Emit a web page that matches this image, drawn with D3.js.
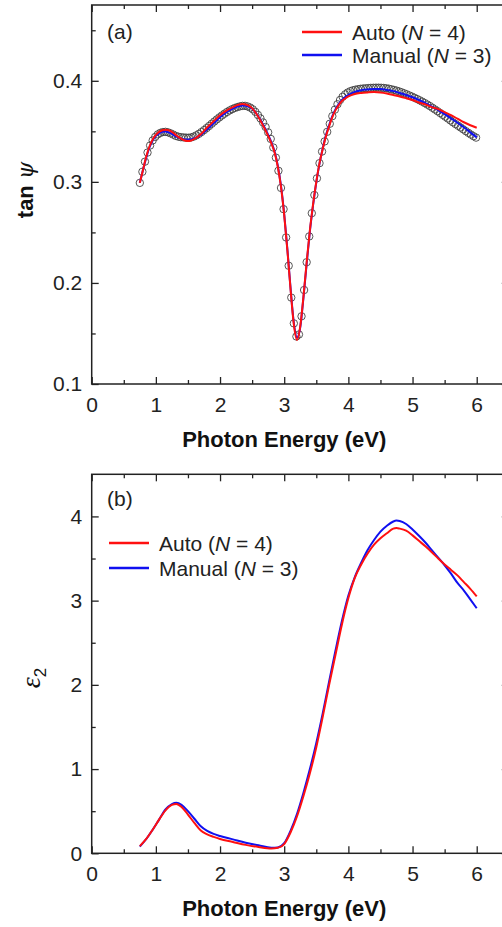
<!DOCTYPE html>
<html><head><meta charset="utf-8">
<script src="https://cdn.jsdelivr.net/npm/d3@7"></script>
<style>html,body{margin:0;padding:0;background:#fff;}svg{display:block;}</style>
</head><body>
<svg id="c" width="502" height="927"></svg>
<script>
// ---------- DATA ----------
// (a) measured tan(psi) (open circles)
const measE = [0.75,0.79,0.83,0.87,0.91,0.95,0.99,1.03,1.07,1.11,1.15,1.19,1.23,1.27,1.31,1.35,1.39,1.43,1.47,1.51,
1.55,1.59,1.63,1.67,1.71,1.75,1.79,1.83,1.87,1.91,1.95,1.99,2.03,2.07,2.11,2.15,2.19,2.23,2.27,2.31,
2.35,2.39,2.43,2.47,2.51,2.55,2.59,2.63,2.67,2.71,2.75,2.79,2.83,2.87,2.91,2.95,2.99,3.03,3.07,3.11,
3.15,3.19,3.23,3.27,3.31,3.35,3.39,3.43,3.47,3.51,3.55,3.59,3.63,3.67,3.71,3.75,3.79,3.83,3.87,3.91,
3.95,3.99,4.03,4.07,4.11,4.15,4.19,4.23,4.27,4.31,4.35,4.39,4.43,4.47,4.51,4.55,4.59,4.63,4.67,4.71,
4.75,4.79,4.83,4.87,4.91,4.95,4.99,5.03,5.07,5.11,5.15,5.19,5.23,5.27,5.31,5.35,5.39,5.43,5.47,5.51,
5.55,5.59,5.63,5.67,5.71,5.75,5.79,5.83,5.87,5.91,5.95,5.99];
const measTanPsi = [0.299,0.310,0.320,0.329,0.336,0.341,0.3445,0.347,0.3485,0.3493,0.3495,0.349,0.348,0.3468,0.3455,0.3447,0.3442,0.344,0.3438,0.3437,
0.344,0.3448,0.346,0.3475,0.3493,0.3512,0.3532,0.3553,0.3575,0.3597,0.3618,0.3638,0.3657,0.3675,0.3692,0.3707,0.372,0.3731,0.374,0.3747,
0.3752,0.3752,0.3746,0.3735,0.3718,0.3693,0.3662,0.3628,0.3588,0.3543,0.349,0.3425,0.334,0.324,0.311,0.294,0.273,0.245,0.217,0.1855,
0.160,0.147,0.149,0.167,0.193,0.2205,0.246,0.269,0.287,0.3035,0.3185,0.330,0.340,0.3495,0.3575,0.365,0.3715,0.3768,0.381,0.3842,
0.3866,0.3884,0.3897,0.3906,0.3912,0.3917,0.3921,0.3924,0.3926,0.3928,0.393,0.3931,0.3932,0.3932,0.3931,0.3929,0.3926,0.3922,0.3916,0.391,
0.3903,0.3895,0.3886,0.3876,0.3866,0.3855,0.3844,0.3832,0.382,0.3807,0.3794,0.378,0.3765,0.375,0.3733,0.3716,0.3699,0.3681,0.3663,0.3645,
0.3627,0.3608,0.3589,0.3572,0.3555,0.3538,0.352,0.3502,0.3485,0.3468,0.3452,0.3438];

// (a) fitted tan(psi) curves
const fitE = [0.75,0.8,0.85,0.9,0.95,1.0,1.05,1.1,1.15,1.2,1.25,1.3,1.35,1.4,1.45,1.5,1.55,1.6,1.7,1.8,1.9,2.0,2.1,2.2,2.3,2.35,2.4,2.5,2.6,2.7,
2.8,2.85,2.9,2.95,3.0,3.05,3.1,3.15,3.2,3.25,3.3,3.35,3.4,3.45,3.5,3.55,3.6,3.65,3.7,3.75,3.8,3.85,3.9,3.95,4.0,4.1,4.2,4.3,4.4,4.5,
4.6,4.7,4.8,4.9,5.0,5.1,5.2,5.3,5.4,5.5,5.6,5.7,5.8,5.9,6.0];
const autoTanPsi = [0.299,0.312,0.325,0.335,0.342,0.3465,0.3495,0.351,0.3515,0.351,0.3495,0.347,0.3445,0.3425,0.341,0.3405,0.341,0.3425,0.347,0.354,0.360,0.366,0.3705,0.374,0.3765,0.377,0.3765,0.373,0.364,0.352,
0.338,0.329,0.315,0.295,0.267,0.232,0.193,0.159,0.1435,0.157,0.1865,0.2205,0.252,0.278,0.300,0.3185,0.3325,0.345,0.355,0.364,0.371,0.376,0.380,0.3825,0.3845,0.387,0.388,0.3885,0.3888,0.3885,
0.3875,0.386,0.3845,0.3828,0.381,0.3785,0.3765,0.374,0.372,0.369,0.366,0.3625,0.359,0.356,0.3535];
const manualTanPsi = [0.299,0.312,0.324,0.334,0.341,0.3455,0.348,0.3495,0.3498,0.349,0.3475,0.3455,0.344,0.3428,0.342,0.3418,0.342,0.343,0.3465,0.352,0.358,0.364,0.369,0.3725,0.375,0.3755,0.3752,0.3725,0.3645,0.353,
0.339,0.330,0.316,0.296,0.268,0.233,0.194,0.1605,0.146,0.156,0.1855,0.219,0.251,0.277,0.2995,0.318,0.333,0.346,0.356,0.365,0.372,0.377,0.381,0.384,0.386,0.389,0.3907,0.3915,0.392,0.3918,
0.391,0.3898,0.388,0.386,0.3837,0.381,0.378,0.3745,0.371,0.367,0.3628,0.3585,0.354,0.349,0.344];

// (b) epsilon_2
const epsE = [0.75,0.85,0.95,1.05,1.15,1.25,1.32,1.4,1.5,1.6,1.7,1.8,1.9,2.0,2.2,2.4,2.6,2.8,2.9,3.0,3.1,3.2,3.3,3.4,3.5,3.6,3.7,3.8,3.9,4.0,
4.1,4.2,4.3,4.4,4.5,4.6,4.7,4.75,4.8,4.9,5.0,5.1,5.2,5.3,5.4,5.5,5.6,5.7,5.8,5.9,6.0];
const autoEps2 = [0.085,0.17,0.28,0.40,0.51,0.575,0.585,0.55,0.46,0.36,0.27,0.225,0.195,0.17,0.135,0.10,0.075,0.058,0.065,0.11,0.25,0.44,0.68,0.95,1.26,1.62,2.0,2.36,2.72,3.03,
3.27,3.43,3.56,3.665,3.74,3.80,3.855,3.862,3.855,3.83,3.775,3.71,3.645,3.575,3.50,3.43,3.365,3.30,3.22,3.14,3.05];
const manualEps2 = [0.08,0.17,0.28,0.40,0.52,0.585,0.60,0.575,0.50,0.41,0.32,0.265,0.23,0.205,0.165,0.125,0.095,0.065,0.07,0.12,0.27,0.47,0.72,1.0,1.31,1.66,2.04,2.41,2.76,3.06,
3.28,3.45,3.60,3.72,3.82,3.89,3.94,3.95,3.945,3.91,3.845,3.77,3.69,3.60,3.51,3.42,3.32,3.21,3.12,3.015,2.91];

const xTicks = [0,1,2,3,4,5,6];
const yTicksA = [0.1,0.2,0.3,0.4];
const yTicksB = [0,1,2,3,4];
const legendLabels = [["Auto (","N"," = 4)"],["Manual (","N"," = 3)"]];

// ---------- DRAWING ----------
const svg = d3.select("#c");
const FONT = "'Liberation Sans', Arial, sans-serif";
const AX = "#222";
const RED = "#ff1010", BLUE = "#1010f0";

const x = d3.scaleLinear().domain([0, 6.5]).range([91.7, 508.8]);

function frame(y, bottomY, topY, yTicks, yMinor, fmt) {
  const g = svg.append("g");
  g.append("g").attr("transform", `translate(0,${bottomY})`)
    .call(d3.axisBottom(x).tickValues(xTicks).tickSizeInner(-7).tickSizeOuter(0).tickPadding(13).tickFormat(d3.format("d")));
  g.append("g").attr("transform", `translate(0,${bottomY})`)
    .call(d3.axisBottom(x).tickValues(d3.range(0.5, 6.5, 1)).tickSizeInner(-4).tickSizeOuter(0).tickFormat(""));
  g.append("g").attr("transform", `translate(0,${topY})`)
    .call(d3.axisTop(x).tickValues(xTicks).tickSizeInner(-7).tickSizeOuter(0).tickFormat(""));
  g.append("g").attr("transform", `translate(0,${topY})`)
    .call(d3.axisTop(x).tickValues(d3.range(0.5, 6.5, 1)).tickSizeInner(-4).tickSizeOuter(0).tickFormat(""));
  g.append("g").attr("transform", `translate(${x(0)},0)`)
    .call(d3.axisLeft(y).tickValues(yTicks).tickSizeInner(-7).tickSizeOuter(0).tickPadding(9.5).tickFormat(fmt));
  g.append("g").attr("transform", `translate(${x(0)},0)`)
    .call(d3.axisLeft(y).tickValues(yMinor).tickSizeInner(-4).tickSizeOuter(0).tickFormat(""));
  g.append("g").attr("transform", `translate(${x(6.5)},0)`)
    .call(d3.axisRight(y).tickValues(yTicks).tickSizeInner(-7).tickSizeOuter(0).tickFormat(""));
  g.append("g").attr("transform", `translate(${x(6.5)},0)`)
    .call(d3.axisRight(y).tickValues(yMinor).tickSizeInner(-4).tickSizeOuter(0).tickFormat(""));
  g.selectAll(".domain").remove();
  g.selectAll(".tick line").attr("stroke", AX).attr("stroke-width", 1.3);
  g.selectAll(".tick text").attr("font-family", FONT).attr("font-size", 21).attr("fill", AX);
  g.append("rect").attr("x", x(0)).attr("y", topY).attr("width", x(6.5) - x(0)).attr("height", bottomY - topY)
    .attr("fill", "none").attr("stroke", AX).attr("stroke-width", 1.5);
  return g;
}

// ---- Panel (a)
const ya = d3.scaleLinear().domain([0.1, 0.475]).range([384, 5]);
frame(ya, 384, 5, yTicksA, [0.15,0.25,0.35,0.45], d3.format(".1f"));

const lineA = (arr) => d3.line().x((d, i) => x(fitE[i])).y(d => ya(d)).curve(d3.curveMonotoneX)(arr);
svg.append("g").selectAll("circle").data(measTanPsi).join("circle")
  .attr("cx", (d, i) => x(measE[i])).attr("cy", d => ya(d)).attr("r", 3.7)
  .attr("fill", "none").attr("stroke", "#3a3a3a").attr("stroke-width", 1).attr("stroke-opacity", 0.85);
svg.append("path").attr("d", lineA(manualTanPsi)).attr("fill", "none").attr("stroke", BLUE).attr("stroke-width", 2);
svg.append("path").attr("d", lineA(autoTanPsi)).attr("fill", "none").attr("stroke", RED).attr("stroke-width", 2);

// ---- Panel (b)
const yb = d3.scaleLinear().domain([0, 4.5]).range([853.3, 474.3]);
frame(yb, 853.3, 474.3, yTicksB, [0.5,1.5,2.5,3.5], d3.format("d"));
const lineB = (arr) => d3.line().x((d, i) => x(epsE[i])).y(d => yb(d)).curve(d3.curveMonotoneX)(arr);
svg.append("path").attr("d", lineB(manualEps2)).attr("fill", "none").attr("stroke", BLUE).attr("stroke-width", 2);
svg.append("path").attr("d", lineB(autoEps2)).attr("fill", "none").attr("stroke", RED).attr("stroke-width", 2);

// ---- Texts
function label(t, px, py) {
  svg.append("text").attr("x", px).attr("y", py).attr("font-family", FONT).attr("font-size", 21).attr("fill", AX).text(t);
}
label("(a)", 107, 39);
label("(b)", 107, 506);

function legend(lx, ly, dy) {
  const cols = [RED, BLUE];
  legendLabels.forEach((parts, i) => {
    const yy = ly + i * dy;
    svg.append("line").attr("x1", lx).attr("x2", lx + 40).attr("y1", yy).attr("y2", yy)
      .attr("stroke", cols[i]).attr("stroke-width", 2.5);
    const t = svg.append("text").attr("x", lx + 50).attr("y", yy + 7.5)
      .attr("font-family", FONT).attr("font-size", 21).attr("fill", AX);
    t.append("tspan").text(parts[0]);
    t.append("tspan").attr("font-style", "italic").text(parts[1]);
    t.append("tspan").text(parts[2]);
  });
}
legend(302, 32, 23);
legend(109, 543, 25);

// axis titles
[446.5, 916].forEach(by => {
  svg.append("text").attr("x", x(3)).attr("y", by).attr("text-anchor", "middle")
    .attr("font-family", FONT).attr("font-size", 22).attr("font-weight", "bold").attr("fill", "#111")
    .text("Photon Energy (eV)");
});
const tp = svg.append("text").attr("transform", "translate(33,190) rotate(-90)").attr("text-anchor", "middle")
  .attr("font-family", FONT).attr("font-size", 22).attr("fill", "#111");
tp.append("tspan").attr("font-weight", "bold").text("tan ");
tp.append("tspan").attr("font-style", "italic").attr("font-family", "'DejaVu Serif', serif").text("ψ");
const ep = svg.append("text").attr("transform", "translate(40,678) rotate(-90)").attr("text-anchor", "middle")
  .attr("font-family", "'Liberation Serif', 'DejaVu Serif', serif").attr("font-size", 28).attr("fill", "#111");
ep.append("tspan").attr("font-style", "italic").text("ε");
ep.append("tspan").attr("font-size", 17).attr("dy", 6).attr("font-family", FONT).text("2");
</script>
</body></html>
